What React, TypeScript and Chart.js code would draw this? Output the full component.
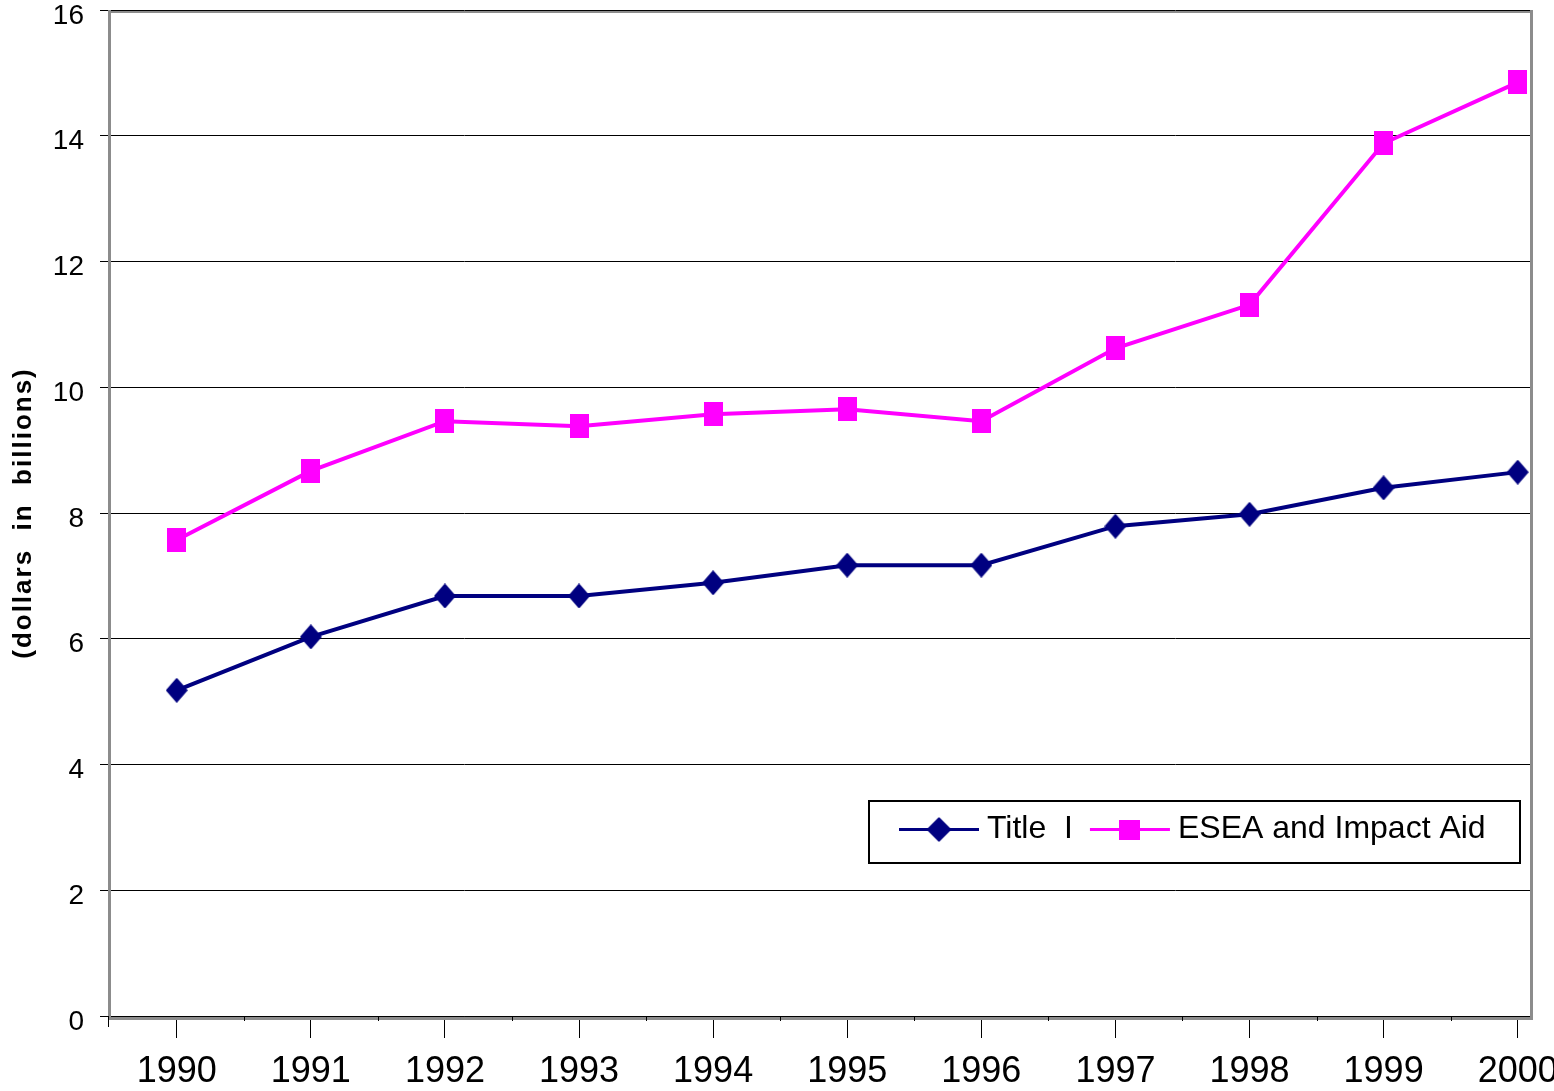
import React, { useEffect, useRef } from 'react';
import { Chart, registerables } from 'chart.js';

Chart.register(...registerables);

// ---- data ----
const years = [1990, 1991, 1992, 1993, 1994, 1995, 1996, 1997, 1998, 1999, 2000];
const titleIValues = [5.18, 6.03, 6.68, 6.68, 6.89, 7.17, 7.17, 7.79, 7.98, 8.4, 8.65];
const eseaValues = [7.57, 8.67, 9.46, 9.38, 9.57, 9.65, 9.46, 10.62, 11.31, 13.88, 14.85];
const yTickValues = [0, 2, 4, 6, 8, 10, 12, 14, 16];
const seriesNames = ['Title  I', 'ESEA and Impact Aid'];
const yAxisTitle = '(dollars  in  billions)';

const NAVY = '#000080';
const MAGENTA = '#FF00FF';
const FONT = "'Liberation Sans', Arial, Helvetica, sans-serif";

function makeDiamond(w: number, h: number, color: string) {
  const c = document.createElement('canvas');
  c.width = w;
  c.height = h;
  const g = c.getContext('2d')!;
  g.fillStyle = color;
  g.strokeStyle = color;
  g.lineJoin = 'round';
  g.lineWidth = 1.5;
  g.beginPath();
  g.moveTo(w / 2, 1);
  g.lineTo(w - 1, h / 2);
  g.lineTo(w / 2, h - 1);
  g.lineTo(1, h / 2);
  g.closePath();
  g.fill();
  g.stroke();
  return c;
}

function makeRect(w: number, h: number, color: string) {
  const c = document.createElement('canvas');
  c.width = w;
  c.height = h;
  const g = c.getContext('2d')!;
  g.fillStyle = color;
  g.fillRect(0, 0, w, h);
  return c;
}

export default function App() {
  const ref = useRef<HTMLCanvasElement | null>(null);

  useEffect(() => {
    if (!ref.current) return;

    const diamondPt = makeDiamond(22, 25, NAVY);
    const squarePt = makeRect(19, 24, MAGENTA);
    const diamondLeg = makeDiamond(25, 25, NAVY);
    const squareLeg = makeRect(21, 20, MAGENTA);

    const framePlugin = {
      id: 'frame',
      beforeDatasetsDraw(chart: any) {
        const { ctx, chartArea } = chart;
        const { left, right, top, bottom } = chartArea;
        ctx.save();
        ctx.fillStyle = '#8c8c8c';
        ctx.fillRect(left - 1, top + 1, right - left + 3, 2);
        ctx.fillRect(left - 1, top, 3, bottom - top + 4);
        ctx.fillRect(right - 1, top, 3, bottom - top + 4);
        ctx.fillRect(left - 1, bottom + 1, right - left + 3, 3);
        // minor ticks between categories
        const xs = chart.scales.x;
        ctx.strokeStyle = '#000';
        ctx.lineWidth = 1;
        ctx.beginPath();
        for (let i = 0; i < years.length - 1; i++) {
          const px = Math.round(xs.getPixelForValue(years[i] + 0.5)) + 0.5;
          ctx.moveTo(px, bottom + 1);
          ctx.lineTo(px, bottom + 5);
        }
        ctx.moveTo(left - 0.5, bottom);
        ctx.lineTo(left - 0.5, bottom + 11);
        ctx.stroke();
        ctx.restore();
      },
    };

    const extrasPlugin = {
      id: 'extras',
      afterDraw(chart: any) {
        const { ctx, chartArea } = chart;
        ctx.save();
        // y axis title
        ctx.translate(24, (chartArea.top + chartArea.bottom) / 2);
        ctx.rotate(-Math.PI / 2);
        ctx.font = `bold 26px ${FONT}`;
        (ctx as any).letterSpacing = '2px';
        ctx.fillStyle = '#000';
        ctx.textAlign = 'center';
        ctx.textBaseline = 'middle';
        ctx.fillText(yAxisTitle, 0, 0);
        ctx.restore();

        // legend
        ctx.save();
        const bx = 869, by = 801, bw = 651, bh = 62;
        ctx.fillStyle = '#fff';
        ctx.fillRect(bx, by, bw, bh);
        ctx.strokeStyle = '#000';
        ctx.lineWidth = 2;
        ctx.strokeRect(bx, by, bw, bh);
        ctx.font = `32px ${FONT}`;
        ctx.textBaseline = 'middle';
        ctx.textAlign = 'left';
        const cy = 829.5;
        const markers = [diamondLeg, squareLeg];
        let x = bx + 30;
        chart.data.datasets.forEach((ds: any, i: number) => {
          ctx.strokeStyle = ds.borderColor;
          ctx.lineWidth = 3;
          ctx.beginPath();
          ctx.moveTo(x, cy);
          ctx.lineTo(x + 80, cy);
          ctx.stroke();
          const m = markers[i];
          ctx.drawImage(m, x + 40 - m.width / 2, cy - m.height / 2);
          x += 88;
          ctx.fillStyle = '#000';
          ctx.fillText(ds.label, x, cy);
          x += ctx.measureText(ds.label).width + 17;
        });
        ctx.restore();
      },
    };

    const zeroPad = (s: any) => {
      s.paddingTop = 0;
      s.paddingBottom = 0;
      s.paddingLeft = 0;
      s.paddingRight = 0;
    };

    const chart = new Chart(ref.current, {
      type: 'line',
      data: {
        datasets: [
          {
            label: seriesNames[0],
            data: years.map((y, i) => ({ x: y, y: titleIValues[i] })),
            borderColor: NAVY,
            backgroundColor: NAVY,
            borderWidth: 4,
            pointStyle: diamondPt as any,
            pointRadius: 12,
            tension: 0,
          },
          {
            label: seriesNames[1],
            data: years.map((y, i) => ({ x: y, y: eseaValues[i] })),
            borderColor: MAGENTA,
            backgroundColor: MAGENTA,
            borderWidth: 4,
            pointStyle: squarePt as any,
            pointRadius: 12,
            tension: 0,
          },
        ],
      },
      options: {
        responsive: false,
        animation: false,
        devicePixelRatio: 1,
        layout: { autoPadding: false, padding: { top: 10, right: 23, left: 0, bottom: 0 } },
        plugins: {
          legend: { display: false },
          tooltip: { enabled: false },
          title: { display: false },
        },
        scales: {
          x: {
            type: 'linear',
            min: 1989.495,
            max: 2000.099,
            afterBuildTicks: (axis: any) => {
              axis.ticks = years.map((v) => ({ value: v }));
            },
            afterFit: (s: any) => {
              s.height = 75;
              zeroPad(s);
            },
            ticks: {
              callback: (v: any) => String(v),
              font: { size: 36, family: FONT },
              color: '#000',
              padding: 12,
              maxRotation: 0,
              autoSkip: false,
            },
            grid: {
              drawOnChartArea: false,
              drawTicks: true,
              tickLength: 22,
              color: '#000',
              lineWidth: 1,
            },
            border: { display: true, color: '#000', width: 1 },
          },
          y: {
            type: 'linear',
            min: 0,
            max: 16,
            afterBuildTicks: (axis: any) => {
              axis.ticks = yTickValues.map((v) => ({ value: v }));
            },
            afterFit: (s: any) => {
              s.width = 109;
              zeroPad(s);
            },
            ticks: {
              callback: (v: any) => String(v),
              font: { size: 28, family: FONT },
              color: '#000',
              padding: 16,
              labelOffset: 6,
            },
            grid: {
              color: '#000',
              lineWidth: 1,
              tickLength: 9,
              drawTicks: true,
            },
            border: { display: false },
          },
        },
      },
      plugins: [framePlugin, extrasPlugin],
    } as any);

    return () => chart.destroy();
  }, []);

  return (
    <div style={{ position: 'fixed', left: 0, top: 0, width: 1554, height: 1091, background: '#fff' }}>
      <canvas ref={ref} width={1554} height={1091} style={{ display: 'block' }} />
    </div>
  );
}
